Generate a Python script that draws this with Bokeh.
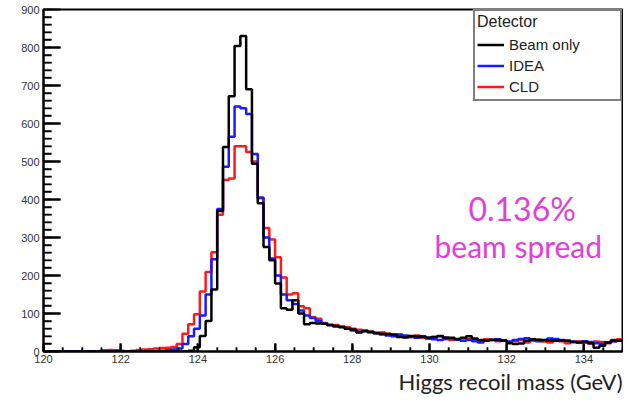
from bokeh.plotting import figure
from bokeh.models import SingleIntervalTicker, Legend, LegendItem, Label, Range1d, Title
from bokeh.embed import file_html
from bokeh.resources import INLINE
import numpy as np

# Histogram binning (GeV)
BIN_LO, BIN_HI, N_BINS = 120.0, 135.0, 100
Y_MAX = 900

beam_only = [
    0, 0, 0, 0, 0, 0, 0, 0, 0, 0,
    0, 0, 0, 0, 0, 0, 0, 0, 0, 0,
    0, 0, 0, 0, 0, 2, 11, 41, 80, 163,
    370, 538, 672, 804, 830, 690, 494, 390, 275, 240,
    179, 114, 110, 135, 100, 72, 75, 74, 73, 70,
    67, 64, 60, 58, 50, 53, 52, 48, 47, 46,
    45, 38, 37, 41, 40, 39, 37, 38, 41, 37,
    36, 33, 36, 40, 34, 30, 29, 31, 30, 29,
    22, 20, 21, 28, 32, 31, 30, 29, 28, 29,
    28, 25, 24, 25, 22, 10, 15, 24, 29, 28,
]

idea = [
    0, 0, 0, 0, 0, 0, 0, 0, 0, 0,
    0, 0, 0, 0, 0, 0, 0, 0, 0, 0,
    2, 3, 5, 8, 20, 40, 60, 95, 150, 243,
    375, 486, 565, 645, 640, 625, 520, 405, 300, 245,
    200, 150, 135, 125, 108, 95, 88, 80, 74, 70,
    66, 65, 60, 55, 52, 54, 50, 48, 45, 42,
    40, 44, 42, 38, 36, 40, 34, 32, 30, 33,
    34, 31, 28, 30, 27, 24, 28, 30, 32, 28,
    26, 30, 33, 35, 30, 27, 29, 34, 33, 30,
    28, 26, 24, 27, 25, 22, 20, 24, 26, 28,
]

cld = [
    0, 0, 0, 0, 0, 0, 0, 0, 0, 0,
    3, 4, 3, 2, 0, 2, 4, 5, 6, 8,
    9, 10, 12, 20, 47, 72, 98, 158, 209, 261,
    360, 451, 455, 540, 540, 525, 500, 403, 325, 295,
    248, 195, 150, 153, 119, 114, 90, 86, 75, 70,
    70, 66, 64, 60, 57, 56, 52, 50, 50, 47,
    44, 45, 40, 38, 42, 36, 34, 38, 40, 33,
    30, 31, 35, 33, 30, 28, 32, 30, 27, 29,
    25, 27, 30, 24, 28, 30, 26, 24, 30, 27,
    22, 25, 27, 24, 21, 26, 25, 22, 30, 32,
]

series_names = ["Beam only", "IDEA", "CLD"]
series_colors = ["#000000", "#1a1aff", "#ff1a1a"]

x_major_ticks = [120, 122, 124, 126, 128, 130, 132, 134]
x_minor_step = 0.5
y_major_ticks = [100, 200, 300, 400, 500, 600, 700, 800]
y_minor_step = 20

W, H = 623, 394
BL, BR, BT, BB = 43, 1, 9, 43

edges = np.linspace(BIN_LO, BIN_HI, N_BINS + 1)

p = figure(width=W, height=H, output_backend="svg", toolbar_location=None,
           x_range=Range1d(BIN_LO, BIN_HI), y_range=Range1d(0, Y_MAX),
           min_border_left=BL, min_border_right=BR, min_border_top=BT,
           min_border_bottom=BB)
p.grid.visible = False
p.outline_line_color = "black"
p.outline_line_width = 2

# ROOT-style inward ticks, drawn first (lengths in pixels converted to data units)
units_per_px_y = Y_MAX / (H - BT - BB - 2)
units_per_px_x = (BIN_HI - BIN_LO) / (W - BL - BR)
x_minor = [float(v) for v in np.arange(BIN_LO, BIN_HI, x_minor_step) if v not in x_major_ticks]
y_minor = [float(v) for v in range(y_minor_step, Y_MAX, y_minor_step) if v % 100 != 0]

p.segment(x0=x_major_ticks, y0=[0] * len(x_major_ticks), x1=x_major_ticks,
          y1=[8 * units_per_px_y] * len(x_major_ticks), line_color="black", line_width=2)
p.segment(x0=x_minor, y0=[0] * len(x_minor), x1=x_minor,
          y1=[4 * units_per_px_y] * len(x_minor), line_color="black", line_width=1.5)
p.segment(x0=[BIN_LO] * len(y_major_ticks), y0=y_major_ticks,
          x1=[BIN_LO + 17 * units_per_px_x] * len(y_major_ticks), y1=y_major_ticks,
          line_color="black", line_width=2)
p.segment(x0=[BIN_LO] * len(y_minor), y0=y_minor,
          x1=[BIN_LO + 8 * units_per_px_x] * len(y_minor), y1=y_minor,
          line_color="black", line_width=1.5)

def stairs(vals):
    return list(vals) + [vals[-1]]

r_red = p.step(edges, stairs(cld), mode="after", line_color=series_colors[2], line_width=2.5)
r_blue = p.step(edges, stairs(idea), mode="after", line_color=series_colors[1], line_width=2.5)
r_black = p.step(edges, stairs(beam_only), mode="after", line_color=series_colors[0], line_width=2.5)

p.xaxis.ticker = SingleIntervalTicker(interval=2, num_minor_ticks=4)
p.yaxis.ticker = SingleIntervalTicker(interval=100, num_minor_ticks=5)
p.xaxis.major_tick_in = 8
p.xaxis.minor_tick_in = 4
p.yaxis.major_tick_in = 17
p.yaxis.minor_tick_in = 8
for ax in (p.xaxis[0], p.yaxis[0]):
    ax.axis_line_width = 2
    ax.axis_line_color = "black"
    ax.major_tick_out = 0
    ax.minor_tick_out = 0
    ax.major_tick_line_color = "black"
    ax.minor_tick_line_color = "black"
    ax.major_tick_line_width = 2
    ax.minor_tick_line_width = 1.5
    ax.major_label_text_font = "Liberation Sans"
    ax.major_label_text_font_size = "11px"
    ax.major_label_text_color = "#333333"
p.xaxis.major_label_standoff = 3
p.yaxis.major_label_standoff = 4

legend = Legend(items=[LegendItem(label=series_names[0], renderers=[r_black]),
                       LegendItem(label=series_names[1], renderers=[r_blue]),
                       LegendItem(label=series_names[2], renderers=[r_red])],
                location="top_right", title="Detector")
legend.title_text_font_style = "normal"
legend.title_text_font = "Liberation Sans"
legend.title_text_font_size = "16px"
legend.title_text_color = "#222222"
legend.label_text_font = "Liberation Sans"
legend.label_text_font_size = "15px"
legend.label_text_color = "#222222"
legend.border_line_color = "black"
legend.border_line_width = 2
legend.padding = 2
legend.spacing = 0
legend.margin = 0
legend.glyph_width = 27
legend.glyph_height = 21
legend.label_height = 21
legend.label_width = 109
legend.label_standoff = 5
legend.title_standoff = 3
legend.background_fill_alpha = 1
p.add_layout(legend)

p.add_layout(Label(x=132.4, y=377, text="0.136%", text_align="center", text_baseline="middle",
                   text_color="#e040d8", text_font="Lato", text_font_size="32px"))
p.add_layout(Label(x=132.3, y=278, text="beam spread", text_align="center", text_baseline="middle",
                   text_color="#e040d8", text_font="Lato", text_font_size="30px"))

# x-axis title, right-aligned below the axis
p.add_layout(Title(text="Higgs recoil mass (GeV)", align="right", text_font="Lato",
                   text_font_size="22px", text_font_style="normal", text_color="#222222",
                   standoff=0), "below")

open("out.html", "w").write(file_html(p, INLINE))
